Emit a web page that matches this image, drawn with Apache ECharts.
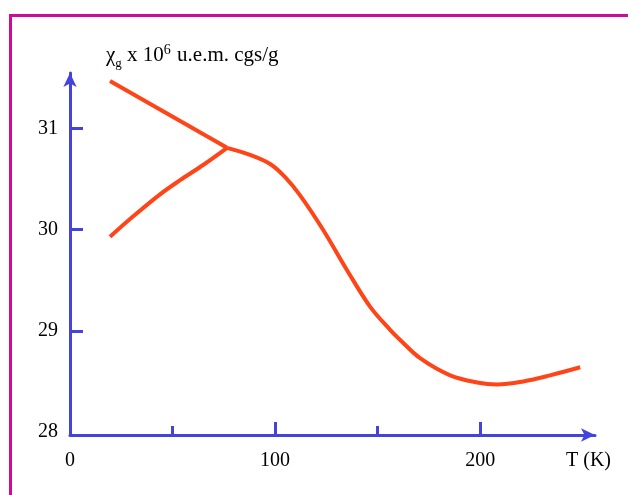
<!DOCTYPE html>
<html>
<head>
<meta charset="utf-8">
<script src="https://cdn.jsdelivr.net/npm/echarts@6/dist/echarts.min.js"></script>
<style>
  html, body { margin: 0; padding: 0; background: #fff; }
  #chart { width: 628px; height: 495px; }
</style>
</head>
<body>
<div id="chart"></div>
<script>
// 数据
var upperT = [19.5, 76.6];
var upperChi = [31.47, 30.81];
var lowerT = [19.5, 30.7, 43.9, 53.7, 64.9, 76.6];
var lowerChi = [29.93, 30.13, 30.35, 30.49, 30.64, 30.81];
var mainT = [76.6, 87.8, 97.6, 104.9, 112.2, 123.4, 135.1, 146.3, 156.1, 161, 170.7, 185.4, 198.5, 208.3, 221, 234.1, 248.8];
var mainChi = [30.81, 30.74, 30.65, 30.52, 30.34, 30.0, 29.6, 29.24, 29.01, 28.91, 28.73, 28.56, 28.49, 28.47, 28.5, 28.56, 28.64];
var xLabels = [0, 100, 200];
var xMajorTicks = [100, 200];
var xMinorTicks = [50, 150];
var yLabels = [28, 29, 30, 31];
var yTicks = [29, 30, 31];

var blue = "#4444dd";
var red = "#ff4418";
var font = "'Liberation Serif', 'DejaVu Serif', serif";

function pairs(xs, ys) {
  return xs.map(function (x, i) { return [x, ys[i]]; });
}

var chart = echarts.init(document.getElementById("chart"));

var option = {
  animation: false,
  grid: { left: 70, right: 33, top: 73, bottom: 60 },
  xAxis: [
    {
      type: "value",
      min: 0,
      max: 256,
      axisLine: {
        show: true,
        symbol: ["none", "arrow"],
        symbolSize: [10, 14],
        lineStyle: { color: blue, width: 3 }
      },
      axisTick: {
        show: true,
        inside: true,
        length: 13,
        customValues: xMajorTicks,
        lineStyle: { color: blue, width: 3 }
      },
      axisLabel: {
        customValues: xLabels,
        margin: 16,
        color: "#000",
        fontSize: 20,
        fontFamily: font
      },
      splitLine: { show: false }
    },
    {
      // short ticks at 50 / 150
      type: "value",
      min: 0,
      max: 256,
      position: "bottom",
      axisLine: { show: false },
      axisTick: {
        show: true,
        inside: true,
        length: 9,
        customValues: xMinorTicks,
        lineStyle: { color: blue, width: 3 }
      },
      axisLabel: { show: false },
      splitLine: { show: false }
    }
  ],
  yAxis: {
    type: "value",
    min: 27.97,
    max: 31.55,
    axisLine: {
      show: true,
      symbol: ["none", "arrow"],
      symbolSize: [10, 14],
      lineStyle: { color: blue, width: 3 }
    },
    axisTick: {
      show: true,
      inside: true,
      length: 13,
      customValues: yTicks,
      lineStyle: { color: blue, width: 3 }
    },
    axisLabel: {
      customValues: yLabels,
      margin: 12,
      color: "#000",
      fontSize: 20,
      fontFamily: font
    },
    splitLine: { show: false }
  },
  series: [
    {
      type: "line",
      data: pairs(upperT, upperChi),
      showSymbol: false,
      lineStyle: { color: red, width: 4 }
    },
    {
      type: "line",
      data: pairs(lowerT, lowerChi),
      smooth: 0.35,
      showSymbol: false,
      lineStyle: { color: red, width: 4 }
    },
    {
      type: "line",
      data: pairs(mainT, mainChi),
      smooth: 0.35,
      showSymbol: false,
      lineStyle: { color: red, width: 4 }
    }
  ],
  graphic: [
    // 边框
    {
      type: "line",
      shape: { x1: 10, y1: 15.5, x2: 628, y2: 15.5 },
      style: { stroke: "#cc0a9c", lineWidth: 3 }
    },
    {
      type: "line",
      shape: { x1: 10.5, y1: 14, x2: 10.5, y2: 495 },
      style: { stroke: "#cc0a9c", lineWidth: 3 }
    },
    {
      type: "text",
      left: 106,
      top: 43,
      style: {
        text: "{a|χ}{sub|g}{a| x 10}{sup|6}{a| u.e.m. cgs/g}",
        rich: {
          a: { fontSize: 21, fontFamily: font, fill: "#000", verticalAlign: "bottom" },
          sub: { fontSize: 13, fontFamily: font, fill: "#000", padding: [0, 0, -4, 0], verticalAlign: "bottom" },
          sup: { fontSize: 14, fontFamily: font, fill: "#000", padding: [0, 1, 9, 0], verticalAlign: "bottom" }
        }
      }
    },
    {
      type: "text",
      left: 566,
      top: 451,
      style: { text: "T (K)", fontSize: 20, fontFamily: font, fill: "#000" }
    }
  ]
};

chart.setOption(option);
</script>
</body>
</html>
